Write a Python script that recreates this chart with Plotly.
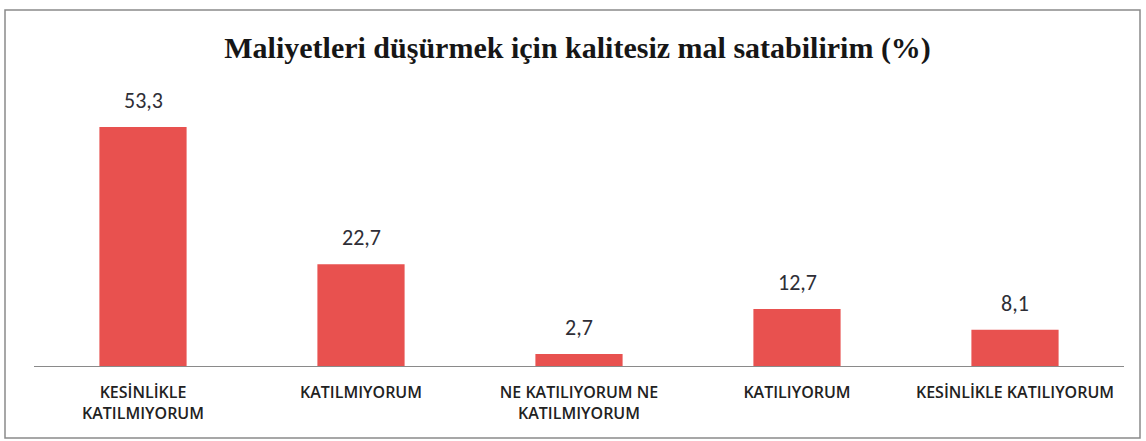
import plotly.graph_objects as go

categories = ["KESİNLİKLE<br>KATILMIYORUM", "KATILMIYORUM", "NE KATILIYORUM NE<br>KATILMIYORUM",
              "KATILIYORUM", "KESİNLİKLE KATILIYORUM"]
values = [53.3, 22.7, 2.7, 12.7, 8.1]
labels = [f"{v:.1f}".replace(".", ",") for v in values]
title = "Maliyetleri düşürmek için kalitesiz mal satabilirim (%)"

fig = go.Figure(go.Bar(
    x=categories, y=values,
    marker=dict(color="#E8514F", line=dict(width=0)),
    cliponaxis=False,
))

for c, v, t in zip(categories, values, labels):
    fig.add_annotation(x=c, y=v, text=t, showarrow=False, yanchor="bottom", yshift=11,
                       font=dict(family="Carlito, Lato, Open Sans, sans-serif", size=22, color="#2e2e36"))

L, R, T, B = 34, 22, 97, 75
fig.update_layout(
    width=1146, height=441,
    margin=dict(l=L, r=R, t=T, b=B),
    paper_bgcolor="white", plot_bgcolor="white",
    bargap=0.6,
    showlegend=False,
    title=dict(text="<b>" + title + "</b>", x=0.504, xanchor="center", y=0.893, yanchor="middle",
               font=dict(family="Liberation Serif, Times New Roman, serif", size=30, color="#161616")),
    xaxis=dict(showline=True, linecolor="#8a8a8a", linewidth=1, ticks="",
               ticklabelstandoff=12,
               tickfont=dict(family="Open Sans, sans-serif", size=16, color="#222222", weight=600),
               showgrid=False),
    yaxis=dict(range=[0, 60], visible=False, showgrid=False),
)

pw, ph = 1146 - L - R, 441 - T - B
fig.add_shape(type="rect", xref="paper", yref="paper",
              x0=(5 - L) / pw, x1=(1140 - L) / pw,
              y0=(441 - B - 438) / ph, y1=(441 - B - 10) / ph,
              line=dict(color="#8a8a8a", width=1.5), fillcolor="rgba(0,0,0,0)", layer="below")

fig.write_html("out.html", config={"displayModeBar": False},
               post_script="document.body.style.margin='0';")
